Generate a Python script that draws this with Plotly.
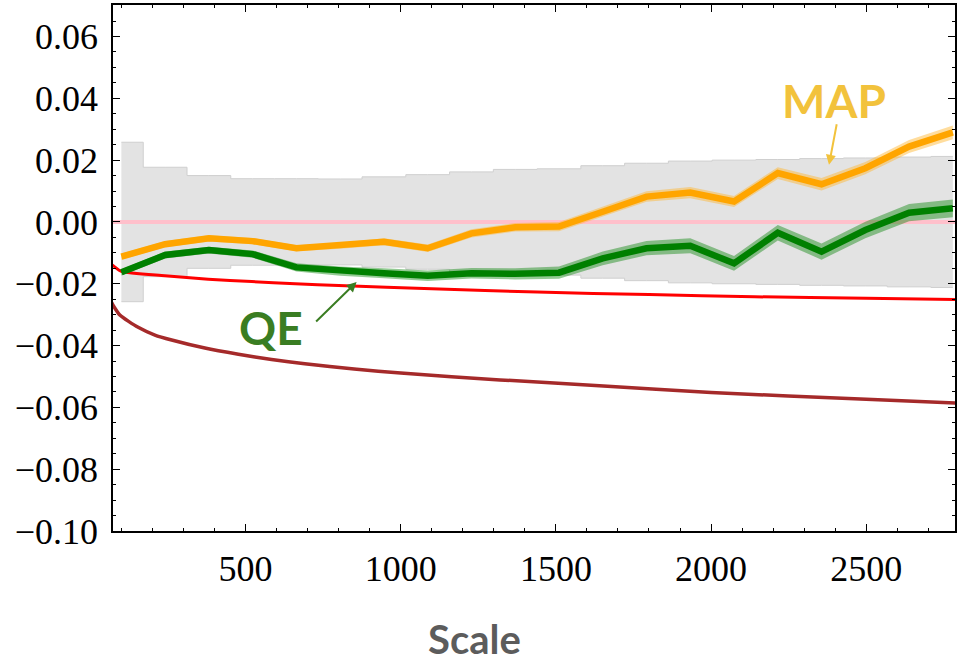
import plotly.graph_objects as go

# ---------------- data ----------------
scale = [100, 241, 382, 523, 664, 805, 946, 1087, 1228, 1369,
         1510, 1651, 1792, 1933, 2074, 2215, 2356, 2497, 2638, 2779]

band_half = [0.0258, 0.0177, 0.0150, 0.0140, 0.0140, 0.0139, 0.0146, 0.0153, 0.0162, 0.0170,
             0.0172, 0.0182, 0.0190, 0.0197, 0.0200, 0.0202, 0.0205, 0.0207, 0.0210, 0.0212]

map_vals = [-0.0112, -0.0072, -0.0053, -0.0062, -0.0085, -0.0077, -0.0064, -0.0085, -0.0037, -0.0017,
            -0.0015, 0.0033, 0.0082, 0.0095, 0.0066, 0.0158, 0.0122, 0.0174, 0.0244, 0.0290]
map_ci = [0.0010, 0.0010, 0.0010, 0.0010, 0.0010, 0.0010, 0.0011, 0.0012, 0.0013, 0.0014,
          0.0015, 0.0016, 0.0017, 0.0018, 0.0018, 0.0019, 0.0020, 0.0020, 0.0021, 0.0022]

qe_vals = [-0.0163, -0.0107, -0.0091, -0.0104, -0.0147, -0.0159, -0.0166, -0.0174, -0.0166, -0.0168,
           -0.0164, -0.0118, -0.0085, -0.0077, -0.0134, -0.0035, -0.0096, -0.0026, 0.0030, 0.0044]
qe_ci = [0.0010, 0.0011, 0.0011, 0.0012, 0.0013, 0.0015, 0.0016, 0.0017, 0.0017, 0.0018,
         0.0020, 0.0022, 0.0023, 0.0024, 0.0024, 0.0025, 0.0026, 0.0027, 0.0028, 0.0029]

red_x = [60, 73, 100, 240, 380, 520, 660, 800, 1100, 1440, 1800, 2140, 2500, 2790]
red_y = [-0.0135, -0.0141, -0.0160, -0.0174, -0.0185, -0.0193, -0.0200, -0.0206, -0.0216, -0.0227,
         -0.0235, -0.0242, -0.0247, -0.0251]

brown_x = [60, 73, 95, 154, 208, 262, 369, 477, 584, 691, 850, 1000, 1320, 1640, 2000, 2500, 2790]
brown_y = [-0.0245, -0.0269, -0.0301, -0.0341, -0.0366, -0.0382, -0.0408, -0.0428, -0.0445, -0.0459,
           -0.0476, -0.0489, -0.0511, -0.0530, -0.0552, -0.0574, -0.0586]

y_ticks = [-0.10, -0.08, -0.06, -0.04, -0.02, 0.00, 0.02, 0.04, 0.06]
x_ticks = [500, 1000, 1500, 2000, 2500]

# ---------------- figure ----------------
fig = go.Figure()

upper = [v for v in band_half]
lower = [-v for v in band_half]
fig.add_trace(go.Scatter(x=scale, y=lower, mode="lines", line=dict(color="#cfcfcf", width=1, shape="hvh"),
                         showlegend=False, hoverinfo="skip"))
fig.add_trace(go.Scatter(x=scale, y=upper, mode="lines", line=dict(color="#cfcfcf", width=1, shape="hvh"),
                         fill="tonexty", fillcolor="#e3e3e3", showlegend=False, hoverinfo="skip"))

# zero line
fig.add_trace(go.Scatter(x=[60, 2800], y=[0, 0], mode="lines", line=dict(color="#ffc0cb", width=4),
                         showlegend=False, hoverinfo="skip"))

fig.add_trace(go.Scatter(x=red_x, y=red_y, mode="lines", line=dict(color="#ff0000", width=3, shape="spline", smoothing=0.6),
                         showlegend=False))
fig.add_trace(go.Scatter(x=brown_x, y=brown_y, mode="lines", line=dict(color="#a52a2a", width=3.5, shape="spline", smoothing=0.6),
                         showlegend=False))


def add_series(vals, ci, color, band_color):
    lo = [v - c for v, c in zip(vals, ci)]
    hi = [v + c for v, c in zip(vals, ci)]
    fig.add_trace(go.Scatter(x=scale, y=lo, mode="lines", line=dict(width=0, color=band_color),
                             showlegend=False, hoverinfo="skip"))
    fig.add_trace(go.Scatter(x=scale, y=hi, mode="lines", line=dict(width=0, color=band_color),
                             fill="tonexty", fillcolor=band_color, showlegend=False, hoverinfo="skip"))
    fig.add_trace(go.Scatter(x=scale, y=vals, mode="lines", line=dict(color=color, width=6.5),
                             showlegend=False))


add_series(map_vals, map_ci, "#ffa500", "rgba(255,180,40,0.45)")
add_series(qe_vals, qe_ci, "#008000", "rgba(0,128,0,0.42)")

tick_font = dict(family="Liberation Serif", size=36, color="black", weight="normal")
label_family = "Lato"

fig.update_layout(
    width=957, height=664,
    margin=dict(l=113, r=0, t=5, b=133),
    paper_bgcolor="white", plot_bgcolor="white",
    showlegend=False,
    xaxis=dict(
        range=[73, 2786], tickvals=x_ticks, ticktext=[str(v) for v in x_ticks],
        ticks="inside", ticklen=7, tickwidth=1.2, tickcolor="black",
        minor=dict(ticks="inside", ticklen=3.5, dtick=100, tickcolor="black", tickwidth=1),
        showline=True, linecolor="black", linewidth=1.5, mirror="ticks",
        showgrid=False, zeroline=False, tickfont=tick_font, ticklabelstandoff=5,
    ),
    yaxis=dict(
        range=[-0.10, 0.0702], tickvals=y_ticks, tickformat=".2f",
        ticks="inside", ticklen=7, tickwidth=1.2, tickcolor="black",
        minor=dict(ticks="inside", ticklen=3.5, dtick=0.005, tickcolor="black", tickwidth=1),
        showline=True, linecolor="black", linewidth=1.5, mirror="ticks",
        showgrid=False, zeroline=False, tickfont=tick_font, ticklabelstandoff=6,
    ),
    annotations=[
        dict(x=0.429, y=0, xref="paper", yref="paper", yshift=-82, text="Scale", showarrow=False,
             xanchor="center", yanchor="top",
             font=dict(family=label_family, size=40, color="#5c5c5c", weight="bold")),
        dict(x=2397, y=0.0392, xref="x", yref="y", text="MAP", showarrow=False,
             font=dict(family=label_family, size=46, color="#f2c23c", weight="bold")),
        dict(x=2380, y=0.0185, xref="x", yref="y", ax=8, ay=-42, text="", showarrow=True,
             arrowhead=2, arrowsize=1, arrowwidth=2, arrowcolor="#f2c23c"),
        dict(x=581, y=-0.0343, xref="x", yref="y", text="QE", showarrow=False,
             font=dict(family=label_family, size=46, color="#3a7d22", weight="bold")),
        dict(x=858, y=-0.0194, xref="x", yref="y", ax=-42, ay=41, text="", showarrow=True,
             arrowhead=2, arrowsize=1, arrowwidth=2, arrowcolor="#3a7d22"),
    ],
)

fig.write_html("out.html")
